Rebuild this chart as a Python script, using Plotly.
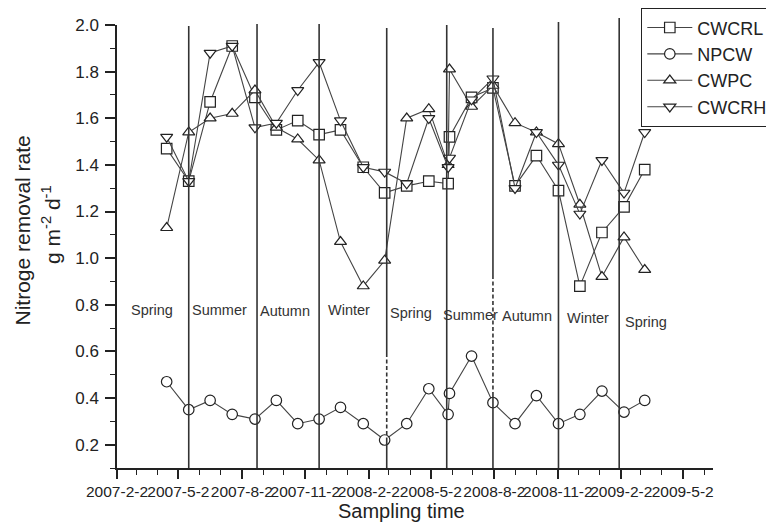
import plotly.graph_objects as go

# ---- data ----
sample_dates = ["2007-04-15", "2007-05-17", "2007-06-17", "2007-07-19", "2007-08-21",
                "2007-09-21", "2007-10-22", "2007-11-22", "2007-12-23", "2008-01-25",
                "2008-02-25", "2008-03-28", "2008-04-29", "2008-05-27", "2008-05-29",
                "2008-06-30", "2008-07-31", "2008-09-01", "2008-10-02", "2008-11-03",
                "2008-12-04", "2009-01-05", "2009-02-06", "2009-03-08"]

cwcrl = [1.47, 1.33, 1.67, 1.91, 1.69, 1.55, 1.59, 1.53, 1.55, 1.39, 1.28, 1.31,
         1.33, 1.32, 1.52, 1.69, 1.73, 1.31, 1.44, 1.29, 0.88, 1.11, 1.22, 1.38]
npcw = [0.47, 0.35, 0.39, 0.33, 0.31, 0.39, 0.29, 0.31, 0.36, 0.29, 0.22, 0.29,
        0.44, 0.33, 0.42, 0.58, 0.38, 0.29, 0.41, 0.29, 0.33, 0.43, 0.34, 0.39]
cwpc = [1.13, 1.54, 1.60, 1.62, 1.72, 1.56, 1.51, 1.42, 1.07, 0.88, 0.99, 1.60,
        1.64, 1.40, 1.81, 1.65, 1.74, 1.58, 1.54, 1.49, 1.23, 0.92, 1.09, 0.95]
cwcrh = [1.52, 1.33, 1.88, 1.91, 1.56, 1.58, 1.72, 1.84, 1.59, 1.39, 1.37, 1.32,
         1.60, 1.39, 1.43, 1.68, 1.77, 1.30, 1.54, 1.40, 1.19, 1.42, 1.28, 1.54]

tick_dates = ["2007-02-02", "2007-05-02", "2007-08-02", "2007-11-02", "2008-02-02",
              "2008-05-02", "2008-08-02", "2008-11-02", "2009-02-02", "2009-05-02"]
tick_labels = ["2007-2-2", "2007-5-2", "2007-8-2", "2007-11-2", "2008-2-2",
               "2008-5-2", "2008-8-2", "2008-11-2", "2009-2-2", "2009-5-2"]

season_names = ["Spring", "Summer", "Autumn", "Winter", "Spring",
                "Summer", "Autumn", "Winter", "Spring"]
season_dates = ["2007-03-25", "2007-07-01", "2007-10-03", "2008-01-04", "2008-04-03",
                "2008-06-28", "2008-09-18", "2008-12-16", "2009-03-10"]
season_y = [0.779, 0.779, 0.772, 0.776, 0.765, 0.758, 0.751, 0.745, 0.726]

boundary_dates = ["2007-05-17", "2007-08-24", "2007-11-22", "2008-02-28",
                  "2008-05-25", "2008-07-31", "2008-11-03", "2009-01-30"]

series = [
    ("CWCRL", cwcrl, "square"),
    ("NPCW", npcw, "circle"),
    ("CWPC", cwpc, "triangle-up"),
    ("CWCRH", cwcrh, "triangle-down"),
]

# ---- figure geometry (page body adds an 8px offset) ----
W, H = 774, 525
OFF = 8
ML, MT = 109, 17              # plot left/top on screen: 117 / 25
MR = W - (713 - OFF)          # plot right on screen: 713
MB = H - (468 - OFF)          # plot bottom on screen: 468
PW = W - ML - MR
PH = H - MT - MB


def py(pix):
    """screen pixel row -> paper y"""
    return (H - MB - (pix - OFF)) / PH


def px(pix):
    """screen pixel column -> paper x"""
    return (pix - OFF - ML) / PW


fig = go.Figure()
for name, vals, sym in series:
    fig.add_trace(go.Scatter(
        x=sample_dates, y=vals, name=name, mode="lines+markers",
        line=dict(color="#444444", width=1.1),
        marker=dict(symbol=sym, size=10.5, color="white",
                    line=dict(color="#222222", width=1.2)),
    ))

# season boundary lines
line_style = dict(color="#333333", width=1.6)
tops = [26, 24, 24, 28, 25, 28, 22, 18]
shapes = []
for d, t in zip(boundary_dates, tops):
    if d == "2008-02-28":
        segs = [(t, 353, None), (353, 440, "4px,2.5px"), (440, 468, None)]
    elif d == "2008-07-31":
        segs = [(t, 275, None), (275, 395, "4px,2.5px"), (395, 468, None)]
    else:
        segs = [(t, 468, None)]
    for a, b, dash in segs:
        ls = dict(line_style)
        if dash:
            ls["dash"] = dash
        shapes.append(dict(type="line", xref="x", yref="paper",
                           x0=d, x1=d, y0=py(a), y1=py(b), line=ls, layer="above"))

annotations = []
for n, d, yv in zip(season_names, season_dates, season_y):
    annotations.append(dict(x=d, y=yv, xref="x", yref="y", text=n, showarrow=False,
                            xanchor="center", yanchor="middle",
                            font=dict(size=14.5, color="#333333")))

annotations.append(dict(x=px(401), y=py(511), xref="paper", yref="paper",
                        text="Sampling time", showarrow=False,
                        xanchor="center", yanchor="middle",
                        font=dict(size=20, color="#222222")))
annotations.append(dict(x=px(22), y=py(230.5), xref="paper", yref="paper",
                        text="Nitroge removal rate", showarrow=False, textangle=-90,
                        xanchor="center", yanchor="middle",
                        font=dict(size=21, color="#222222")))
annotations.append(dict(x=px(51), y=py(225), xref="paper", yref="paper",
                        text="g m<sup>-2</sup> d<sup>-1</sup>", showarrow=False, textangle=-90,
                        xanchor="center", yanchor="middle",
                        font=dict(size=21, color="#222222")))

fig.update_layout(
    width=W, height=H,
    margin=dict(l=ML, r=MR, t=MT, b=MB, pad=0, autoexpand=False),
    paper_bgcolor="white", plot_bgcolor="white",
    font=dict(family="Arial, Liberation Sans, sans-serif", color="#222222"),
    showlegend=True,
    legend=dict(x=px(641), y=py(8), xanchor="left", yanchor="top",
                bordercolor="#222222", borderwidth=1.3, bgcolor="white",
                itemwidth=45,
                font=dict(size=18, color="#222222"), tracegroupgap=0),
    shapes=shapes,
    annotations=annotations,
    xaxis=dict(type="date", range=["2007-02-02", "2009-06-15"],
               showline=True, linecolor="#222222", linewidth=1.5,
               ticks="outside", ticklen=9, tickwidth=1.5, tickcolor="#222222",
               tickmode="array", tickvals=tick_dates, ticktext=tick_labels,
               tickangle=0, tickfont=dict(size=15.5, color="#222222"),
               showgrid=False, zeroline=False, automargin=False,
               minor=dict(tickmode="linear", tick0="2007-02-02", dtick="M1",
                          ticks="outside", ticklen=5, tickwidth=1.3,
                          tickcolor="#222222", showgrid=False)),
    yaxis=dict(range=[0.1, 2.0], tickmode="linear", tick0=0.2, dtick=0.2,
               tickformat=".1f", showline=True, linecolor="#222222", linewidth=1.5,
               ticks="outside", ticklen=10, tickwidth=1.5, tickcolor="#222222",
               tickfont=dict(size=17, color="#222222"), ticklabelstandoff=3,
               showgrid=False, zeroline=False, automargin=False,
               minor=dict(tickmode="linear", tick0=0.1, dtick=0.1,
                          ticks="outside", ticklen=5, tickwidth=1.3,
                          tickcolor="#222222", showgrid=False)),
)

fig.write_html("out.html")
